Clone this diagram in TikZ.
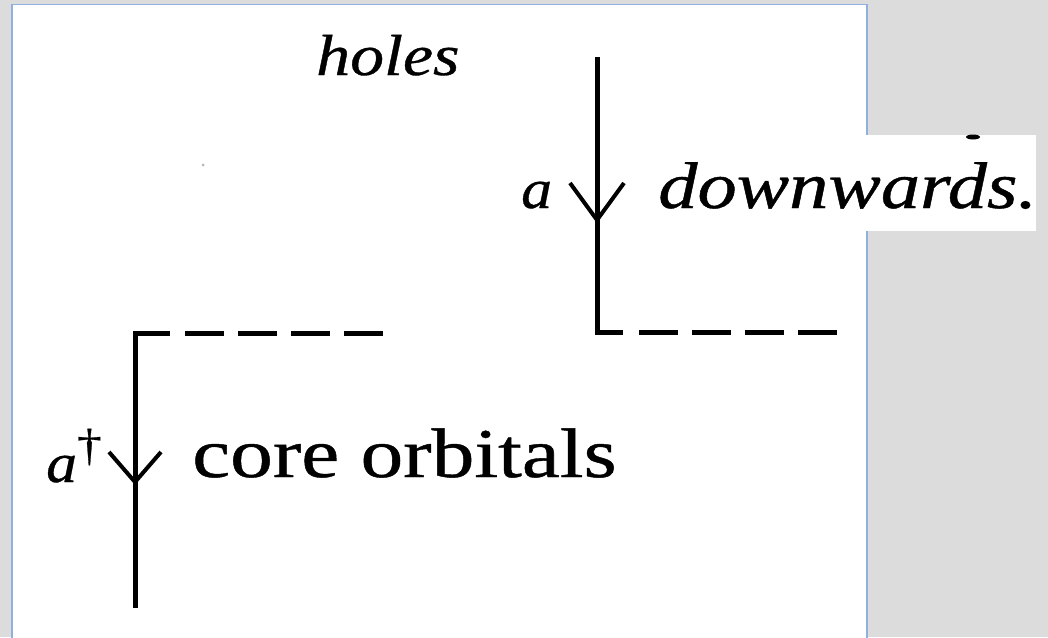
\documentclass[tikz,border=0pt]{standalone}
\usepackage{fontspec}
\setmainfont{Liberation Serif}
\newfontfamily\heavyserif[FakeBold=0.6]{Liberation Serif}
\definecolor{bggray}{HTML}{DCDCDC}
\definecolor{framecol}{HTML}{8FB0E0}
\begin{document}
\begin{tikzpicture}[x=1pt,y=-1pt]
\tikzset{
  wire/.style={line width=5pt, black, line join=miter, line cap=butt},
  vee/.style={line width=4pt, black, line join=miter, line cap=butt},
  dashline/.style={line width=5pt, black, line cap=butt, dash pattern=on 38.5pt off 14.5pt},
  lbl/.style={inner sep=0pt, anchor=base west}
}
\useasboundingbox (0,0) rectangle (1048,637);
\fill[bggray] (0,0) rectangle (1048,637);
\filldraw[fill=white, draw=framecol, line width=1.5pt] (12,4.5) rectangle (867,645);
% white patch at right
\fill[white] (830,135) rectangle (1036,231);
\fill[black] (973,137) ellipse (7 and 2.5);
\fill[gray!60] (203,165) circle (1.5);

% right line (annihilation)
\coordinate (rtop) at (597,57);
\coordinate (rcorner) at (597,332);
\coordinate (rend) at (623,332);
\coordinate (rdash0) at (639,332);
\coordinate (rdash1) at (839,332);
\coordinate (rtip) at (597,220);
\coordinate (rarmL) at (570,183);
\coordinate (rarmR) at (624,183);
\draw[wire] (rtop) -- (rcorner) -- (rend);
\draw[dashline] (rdash0) -- (rdash1);
\draw[vee] (rarmL) -- (rtip) -- (rarmR);

% left line (creation)
\coordinate (lbot) at (135,608);
\coordinate (lcorner) at (135,333);
\coordinate (lend) at (170,333);
\coordinate (ldash0) at (185,333);
\coordinate (ldash1) at (383,333);
\coordinate (ltip) at (135,482);
\coordinate (larmL) at (109,452);
\coordinate (larmR) at (161,452);
\draw[wire] (lbot) -- (lcorner) -- (lend);
\draw[dashline] (ldash0) -- (ldash1);
\draw[vee] (larmL) -- (ltip) -- (larmR);

% labels
\node[lbl, font=\heavyserif\fontsize{58}{58}\selectfont\itshape, xscale=1.17] (holes) at (316,75) {holes};
\node[lbl, font=\heavyserif\fontsize{66}{66}\selectfont\itshape, xscale=1.19] (down) at (658,208) {downwards.};
\node[lbl, font=\heavyserif\fontsize{56}{56}\selectfont\itshape, xscale=1.1] (ar) at (521,208) {a};
\node[lbl, font=\heavyserif\fontsize{56}{56}\selectfont\itshape, xscale=1.1] (al) at (46,482) {a\raisebox{22pt}{\fontsize{45}{45}\selectfont\upshape †}};
\node[lbl, font=\heavyserif\fontsize{70}{70}\selectfont, xscale=1.22] (core) at (192,477) {core orbitals};
\end{tikzpicture}
\end{document}
